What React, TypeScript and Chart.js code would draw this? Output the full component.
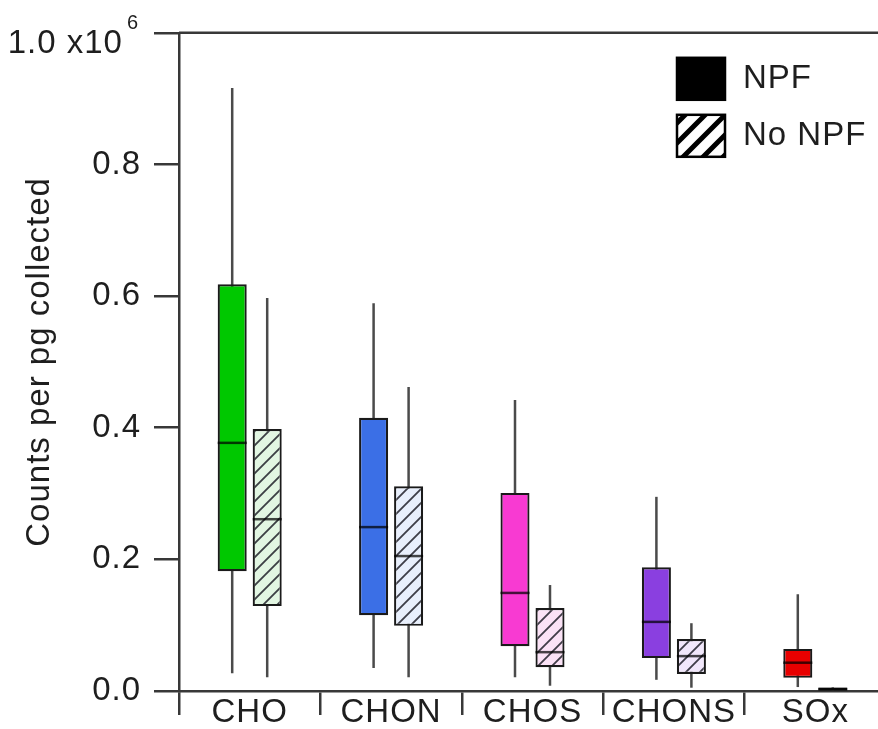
import React, { useEffect, useRef } from 'react';
import { Chart, registerables } from 'chart.js';

Chart.register(...registerables);

const categories = ['CHO', 'CHON', 'CHOS', 'CHONS', 'SOx'];
const seriesNames = ['NPF', 'No NPF'];

const npfMin = [27000, 35000, 21000, 17000, 6000];
const npfQ1 = [182000, 115000, 68000, 50000, 20000];
const npfMedian = [377000, 249000, 149000, 105000, 43000];
const npfQ3 = [618000, 415000, 301000, 188000, 64000];
const npfMax = [916000, 589000, 442000, 295000, 147000];

const noNpfMin = [21000, 21000, 8000, 5000, 500];
const noNpfQ1 = [129000, 99000, 36000, 26000, 500];
const noNpfMedian = [261000, 205000, 59000, 53000, 3000];
const noNpfQ3 = [398000, 311000, 126000, 79000, 5500];
const noNpfMax = [597000, 462000, 161000, 103000, 5500];

const yTicks = [0, 200000, 400000, 600000, 800000, 1000000];

const npfColors = ['#00c800', '#3b6fe6', '#f83ad2', '#8a3fe0', '#e80000'];
const noNpfTints = ['#e2f6e2', '#e8effc', '#fbe2f6', '#f1e7fb', '#111111'];

const FONT = '"Liberation Sans", Arial, sans-serif';
const FS = 33;
const SPACING = '1px';
const AXIS = '#383838';
const TEXT = '#1e1e1e';

function makeHatch(bg: string, stripe: string, size: number, width: number) {
  const c = document.createElement('canvas');
  c.width = size;
  c.height = size;
  const g = c.getContext('2d')!;
  g.fillStyle = bg;
  g.fillRect(0, 0, size, size);
  g.strokeStyle = stripe;
  g.lineWidth = width;
  g.beginPath();
  g.moveTo(-size / 2, size / 2);
  g.lineTo(size / 2, -size / 2);
  g.moveTo(-1, size + 1);
  g.lineTo(size + 1, -1);
  g.moveTo(size / 2, size * 1.5);
  g.lineTo(size * 1.5, size / 2);
  g.stroke();
  return g.createPattern(c, 'repeat')!;
}

export default function App() {
  const ref = useRef<HTMLCanvasElement | null>(null);

  useEffect(() => {
    const canvas = ref.current!;
    const patterns = noNpfTints.map((t) => makeHatch(t, 'rgba(30,30,40,0.85)', 14, 1.8));
    const legendHatch = makeHatch('#ffffff', '#000000', 20, 5);

    const extras = {
      id: 'boxExtras',
      beforeUpdate(chart: any) {
        chart.ctx.letterSpacing = SPACING;
      },
      beforeDraw(chart: any) {
        chart.ctx.letterSpacing = SPACING;
      },
      beforeDatasetsDraw(chart: any) {
        const ctx = chart.ctx;
        const ys = chart.scales.y;
        const ranges = [
          [npfMin, npfMax],
          [noNpfMin, noNpfMax],
        ];
        ctx.save();
        ctx.strokeStyle = '#4a4a4a';
        ctx.lineWidth = 2.5;
        ranges.forEach(([mn, mx], d) => {
          const meta = chart.getDatasetMeta(d);
          meta.data.forEach((el: any, i: number) => {
            const x = el.x;
            ctx.beginPath();
            ctx.moveTo(x, ys.getPixelForValue(mn[i]));
            ctx.lineTo(x, ys.getPixelForValue(mx[i]));
            ctx.stroke();
          });
        });
        ctx.restore();
      },
      afterDatasetsDraw(chart: any) {
        const ctx = chart.ctx;
        const ys = chart.scales.y;
        const medians = [npfMedian, noNpfMedian];
        ctx.save();
        ctx.strokeStyle = 'rgba(0,0,0,0.72)';
        ctx.lineWidth = 2.5;
        medians.forEach((md, d) => {
          const meta = chart.getDatasetMeta(d);
          meta.data.forEach((el: any, i: number) => {
            const y = ys.getPixelForValue(md[i]);
            ctx.beginPath();
            ctx.moveTo(el.x - el.width / 2, y);
            ctx.lineTo(el.x + el.width / 2, y);
            ctx.stroke();
          });
        });
        ctx.restore();
      },
      afterDraw(chart: any) {
        const ctx = chart.ctx;
        const area = chart.chartArea;
        const ys = chart.scales.y;
        ctx.save();
        ctx.letterSpacing = SPACING;
        // top frame line
        ctx.strokeStyle = AXIS;
        ctx.lineWidth = 2.5;
        ctx.beginPath();
        ctx.moveTo(area.left, area.top);
        ctx.lineTo(chart.width, area.top);
        ctx.stroke();

        // top tick label "1.0 x10^6"
        const yTop = ys.getPixelForValue(yTicks[yTicks.length - 1]);
        const rightEdge = area.left - 40;
        ctx.fillStyle = TEXT;
        ctx.textBaseline = 'alphabetic';
        ctx.textAlign = 'left';
        ctx.font = `20px ${FONT}`;
        const supW = ctx.measureText('6').width;
        ctx.fillText('6', rightEdge - supW, yTop - 4);
        ctx.font = `${FS}px ${FONT}`;
        const mainW = ctx.measureText('1.0 x10').width;
        ctx.fillText('1.0 x10', rightEdge - supW - 4 - mainW, yTop + 20);

        // legend
        const lx = area.left + 498;
        const ly = area.top + 25;
        const bw = 48;
        const bh = 42;
        ctx.fillStyle = '#000000';
        ctx.fillRect(lx, ly, bw, bh);
        ctx.fillStyle = legendHatch;
        ctx.fillRect(lx, ly + 57, bw, bh);
        ctx.strokeStyle = '#000000';
        ctx.lineWidth = 2.5;
        ctx.strokeRect(lx, ly, bw, bh);
        ctx.strokeRect(lx, ly + 57, bw, bh);
        ctx.fillStyle = TEXT;
        ctx.font = `${FS}px ${FONT}`;
        ctx.textBaseline = 'middle';
        ctx.fillText(seriesNames[0], lx + 66, ly + bh / 2);
        ctx.fillText(seriesNames[1], lx + 66, ly + 57 + bh / 2);
        ctx.restore();
      },
    };

    const chart = new Chart(canvas, {
      type: 'bar',
      data: {
        labels: categories,
        datasets: [
          {
            label: seriesNames[0],
            data: npfQ1.map((q, i) => [q, npfQ3[i]]) as any,
            backgroundColor: npfColors,
            borderColor: '#1a1a1a',
            borderWidth: 2.2,
            borderSkipped: false,
            categoryPercentage: 0.495,
            barPercentage: 0.83,
          },
          {
            label: seriesNames[1],
            data: noNpfQ1.map((q, i) => [q, noNpfQ3[i]]) as any,
            backgroundColor: patterns as any,
            borderColor: '#1a1a1a',
            borderWidth: 2.2,
            borderSkipped: false,
            categoryPercentage: 0.495,
            barPercentage: 0.83,
          },
        ],
      },
      options: {
        responsive: false,
        devicePixelRatio: 1,
        animation: false,
        events: [],
        layout: { padding: { top: 32, right: 14, left: 0, bottom: 0 } },
        plugins: {
          legend: { display: false },
          tooltip: { enabled: false },
        },
        scales: {
          x: {
            type: 'category',
            offset: true,
            afterFit: (s: any) => {
              s.height = 38;
            },
            grid: {
              display: true,
              offset: true,
              drawOnChartArea: false,
              drawTicks: true,
              tickLength: 24,
              color: AXIS,
              lineWidth: 2.5,
            },
            border: { display: true, color: AXIS, width: 2.5 },
            ticks: {
              font: { family: FONT, size: FS },
              color: TEXT,
              padding: -22,
              maxRotation: 0,
              autoSkip: false,
            },
          },
          y: {
            type: 'linear',
            min: yTicks[0],
            max: yTicks[yTicks.length - 1],
            afterFit: (s: any) => {
              s.width = 179;
            },
            afterBuildTicks: (s: any) => {
              s.ticks = yTicks.map((v) => ({ value: v }));
            },
            grid: {
              display: true,
              drawOnChartArea: false,
              drawTicks: true,
              tickLength: 25,
              color: AXIS,
              lineWidth: 2.5,
            },
            border: { display: true, color: AXIS, width: 2.5 },
            ticks: {
              font: { family: FONT, size: FS },
              color: TEXT,
              padding: 13,
              callback: (v: any) => (Number(v) >= yTicks[yTicks.length - 1] ? '' : (Number(v) / 1e6).toFixed(1)),
            },
            title: {
              display: true,
              text: 'Counts per pg collected',
              font: { family: FONT, size: FS },
              color: TEXT,
              padding: { top: 20, bottom: 0 },
            },
          },
        },
      },
      plugins: [extras],
    });

    return () => {
      chart.destroy();
    };
  }, []);

  return (
    <div
      style={{
        position: 'fixed',
        left: 0,
        top: 0,
        width: 878,
        height: 729,
        overflow: 'hidden',
        background: '#ffffff',
      }}
    >
      <canvas ref={ref} width={900} height={729} style={{ display: 'block', width: 900, height: 729 }} />
    </div>
  );
}
